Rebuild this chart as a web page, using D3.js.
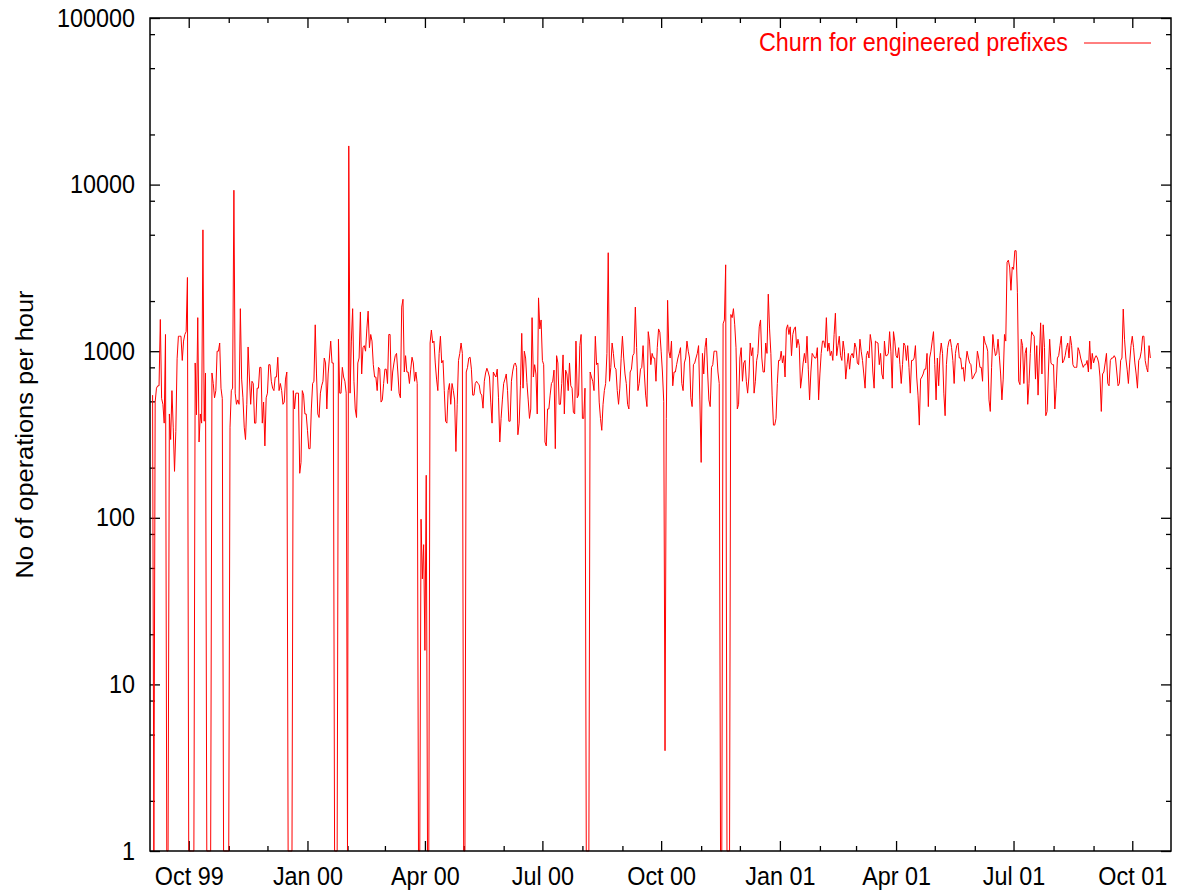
<!DOCTYPE html>
<html>
<head>
<meta charset="utf-8">
<script src="https://cdn.jsdelivr.net/npm/d3@7"></script>
<style>
  html, body { margin: 0; padding: 0; background: #fff; }
  svg { display: block; }
  text { font-family: "Liberation Sans", Arial, Helvetica, sans-serif; }
</style>
</head>
<body>
<svg id="chart" width="1180" height="891"></svg>
<script>
// Daily route-churn counts (operations per hour) for engineered prefixes.
// A value of 0 means no activity that day; it is drawn at the axis floor.
const seriesName = 'Churn for engineered prefixes';
const yAxisTitle = 'No of operations per hour';

const churn1999Start = '1999-09-03';
const churn1999 = [
  545,0,495,600,620,620,1550,520,480,370,
  1260,0,0,420,295,580,350,190,330,900,
  1230,1230,1230,880,1150,1260,1310,2770,0,0,
  0,0,0,850,415,1590,285,420,370,5350,
  380,740,0,0,0,0,740,640,525,580,
  1000,1000,1120,600,520,0,0,0,0,0,
  350,580,600,9250,560,480,510,480,1800,680,
  525,350,295,480,1060,700,480,660,640,370,
  370,600,600,800,800,370,495,270,525,560,
  830,830,660,600,580,700,700,920,580,640,
  580,480,495,680,750,0,0,0,0,580,
  450,560,560,560,185,215,580,545,420,420
];

const churn2000Start = '2000-01-01';
const churn2000 = [
  335,260,260,450,640,660,1440,730,420,400,
  560,620,660,910,850,450,730,910,1150,850,
  850,0,0,0,1180,560,560,800,700,660,
  560,0,17060,560,1150,1800,660,450,400,850,
  910,1720,730,1050,1080,1000,1360,1740,1050,1260,
  1150,830,700,700,580,800,780,495,510,640,
  780,780,640,1260,1260,580,750,850,940,970,
  750,560,525,1840,2050,750,940,750,750,640,
  780,920,850,660,750,640,0,0,98,43,
  69,16,180,0,0,1120,1340,1120,1150,850,
  680,580,970,1230,850,880,580,380,370,580,
  640,480,640,580,510,250,480,880,970,1120,
  970,0,0,750,800,910,920,780,545,545,
  640,660,640,630,560,545,455,660,740,790,
  750,700,495,370,750,720,700,780,525,285,
  395,510,640,680,730,580,380,380,660,760,
  830,850,800,315,370,620,1280,600,1000,910,
  650,510,395,450,1590,700,830,730,420,2090,
  1360,1540,880,830,285,270,450,450,545,640,
  660,770,260,940,850,480,480,640,950,420,
  770,730,580,850,620,600,430,420,1150,525,
  545,1080,1260,395,395,600,0,0,0,750,
  700,660,580,1230,830,850,495,395,335,480,
  580,640,970,3900,660,800,1120,970,800,780,
  580,480,600,900,1230,910,730,640,480,450,
  750,780,940,970,1840,1050,580,640,780,800,
  1080,730,545,465,1310,1150,830,970,910,910,
  660,1050,1360,1300,1000,750,500,4,395,2020,
  1000,910,1150,620,750,750,830,910,970,1050,
  640,580,850,910,1150,1000,910,525,465,830,
  850,910,970,1080,510,215,970,730,1050,1200,
  750,510,465,800,830,1000,1000,1000,750,640,
  0,0,1460,1540,3300,0,0,0,1660,1590,
  1800,1440,1050,450,480,910,1050,660,850,880,
  660,560,700,1120,940,1050,560,660,880,970,
  1400,1540,910,750,750,1120,970,2200,1360,970,
  545,360,360,395,640,880
];

const churn2001Start = '2001-01-01';
const churn2001 = [
  880,1000,850,940,
  700,1360,1440,1260,1400,940,1260,1360,1400,1050,
  1180,1080,600,700,850,970,850,1230,780,510,
  750,970,940,910,910,1050,510,730,970,1150,
  1150,1050,1590,1000,1120,940,1000,880,1260,1690,
  940,1080,1230,940,880,1150,1000,680,830,970,
  780,940,970,910,1120,1050,850,830,1180,1000,
  880,730,600,940,1000,910,1260,1120,750,600,
  1150,1130,1120,830,970,730,680,1150,940,940,
  970,1310,1000,600,1310,1150,940,910,1050,830,
  640,830,1120,1080,880,1080,800,560,880,880,
  910,1080,700,545,360,680,700,730,780,780,
  970,465,910,1000,1150,1310,830,510,910,620,
  940,1120,970,560,410,830,1050,1150,1180,1050,
  880,640,970,1080,1120,910,910,780,800,660,
  850,1000,910,850,830,680,700,730,750,1000,
  910,800,800,660,1230,1120,1080,1000,510,435,
  800,1260,1050,940,970,1180,940,730,510,680,
  1260,1150,3420,3520,3200,2320,3200,3100,4010,4010,
  2260,660,630,1180,1080,640,970,1050,480,640,
  970,1310,1260,1230,680,1080,545,910,1480,730,
  1440,1050,410,435,750,1180,850,830,830,450,
  600,910,940,1080,1230,850,880,940,1050,1120,
  910,1230,1080,830,800,800,800,1050,1000,910,
  850,800,830,830,880,750,1150,780,970,850,
  910,940,910,850,700,435,730,750,850,970,
  640,620,880,910,910,940,910,750,620,640,
  880,910,1790,1180,910,780,640,850,1080,1230,
  1050,850,730,600,880,910,1000,1230,1230,880,
  800,750,1080,910
];

const xDomain = ['1999-09-01', '2001-10-31'];
const xTickDates = ['1999-10-01', '2000-01-01', '2000-04-01', '2000-07-01',
                    '2000-10-01', '2001-01-01', '2001-04-01', '2001-07-01', '2001-10-01'];
const xTickLabels = ['Oct 99', 'Jan 00', 'Apr 00', 'Jul 00',
                     'Oct 00', 'Jan 01', 'Apr 01', 'Jul 01', 'Oct 01'];
const yDomain = [1, 100000];
const yTickValues = [1, 10, 100, 1000, 10000, 100000];
const yTickLabels = ['1', '10', '100', '1000', '10000', '100000'];
const yMinorMantissas = [2, 5, 8];

// ---------------------------------------------------------------------------
const parse = d3.utcParse('%Y-%m-%d');
const frame = { left: 150, right: 1171, top: 18, bottom: 851 };
const FONT = '"Liberation Sans", Arial, Helvetica, sans-serif';
const FONT_SIZE = 25;
const TEXT_SQUEEZE = 0.935;   // glyphs are drawn slightly narrow
const RED = '#ff0000';

const svg = d3.select('#chart');
svg.append('rect').attr('width', 1180).attr('height', 891).attr('fill', '#fff');

const x = d3.scaleUtc()
  .domain(xDomain.map(parse))
  .range([frame.left, frame.right]);

const y = d3.scaleLog()
  .domain(yDomain)
  .range([frame.bottom, frame.top]);

// flatten the yearly blocks into one daily series
function toDaily(start, values) {
  const s = parse(start);
  return values.map((v, i) => ({ date: d3.utcDay.offset(s, i), value: v }));
}
const series = [].concat(
  toDaily(churn1999Start, churn1999),
  toDaily(churn2000Start, churn2000),
  toDaily(churn2001Start, churn2001)
);

// ---------------------------------------------------------------------------
// axes: inward ticks on all four sides, labels on bottom and left only
const majorDates = xTickDates.map(parse);
const monthDates = d3.utcMonth.range(parse(xDomain[0]), parse(xDomain[1]))
  .filter(d => !majorDates.some(m => +m === +d) && x(d) > frame.left + 0.5);
const yMinor = [];
yTickValues.slice(0, -1).forEach(p => yMinorMantissas.forEach(m => yMinor.push(p * m)));

function styleAxis(g) {
  g.select('.domain').remove();
  g.attr('font-family', FONT).attr('font-size', FONT_SIZE);
  g.selectAll('.tick line').attr('stroke', '#000').attr('stroke-width', 1.3);
  g.selectAll('text')
    .attr('font-family', FONT).attr('font-size', FONT_SIZE).attr('fill', '#000')
    .attr('transform', `scale(${TEXT_SQUEEZE},1)`);
}

// bottom
svg.append('g').attr('transform', `translate(0,${frame.bottom})`)
  .call(d3.axisBottom(x).tickValues(majorDates).tickSize(-10).tickPadding(16)
    .tickFormat((d, i) => xTickLabels[i]))
  .call(styleAxis);
svg.append('g').attr('transform', `translate(0,${frame.bottom})`)
  .call(d3.axisBottom(x).tickValues(monthDates).tickSize(-5).tickFormat(''))
  .call(styleAxis);
// top
svg.append('g').attr('transform', `translate(0,${frame.top})`)
  .call(d3.axisTop(x).tickValues(majorDates).tickSize(-10).tickFormat(''))
  .call(styleAxis);
svg.append('g').attr('transform', `translate(0,${frame.top})`)
  .call(d3.axisTop(x).tickValues(monthDates).tickSize(-5).tickFormat(''))
  .call(styleAxis);
// left
svg.append('g').attr('transform', `translate(${frame.left},0)`)
  .call(d3.axisLeft(y).tickValues(yTickValues).tickSize(-10).tickPadding(16)
    .tickFormat((d, i) => yTickLabels[i]))
  .call(styleAxis);
svg.append('g').attr('transform', `translate(${frame.left},0)`)
  .call(d3.axisLeft(y).tickValues(yMinor).tickSize(-5).tickFormat(''))
  .call(styleAxis);
// right
svg.append('g').attr('transform', `translate(${frame.right},0)`)
  .call(d3.axisRight(y).tickValues(yTickValues).tickSize(-10).tickFormat(''))
  .call(styleAxis);
svg.append('g').attr('transform', `translate(${frame.right},0)`)
  .call(d3.axisRight(y).tickValues(yMinor).tickSize(-5).tickFormat(''))
  .call(styleAxis);

// ---------------------------------------------------------------------------
// the series
const line = d3.line()
  .x(d => x(d.date))
  .y(d => y(Math.max(d.value, yDomain[0])));

svg.append('path')
  .datum(series)
  .attr('fill', 'none')
  .attr('stroke', RED)
  .attr('stroke-width', 1)
  .attr('stroke-linejoin', 'miter')
  .attr('d', line);

// frame
svg.append('rect')
  .attr('x', frame.left).attr('y', frame.top)
  .attr('width', frame.right - frame.left).attr('height', frame.bottom - frame.top)
  .attr('fill', 'none').attr('stroke', '#000').attr('stroke-width', 1.5);

// y-axis title
svg.append('text')
  .attr('transform', `translate(33,${(frame.top + frame.bottom) / 2}) scale(${TEXT_SQUEEZE},1) rotate(-90)`)
  .attr('text-anchor', 'middle')
  .attr('font-family', FONT).attr('font-size', 25.4).attr('fill', '#000')
  .text(yAxisTitle);

// legend
const legend = svg.append('g');
legend.append('text')
  .attr('transform', `translate(1068,51) scale(${TEXT_SQUEEZE},1)`)
  .attr('text-anchor', 'end')
  .attr('font-family', FONT).attr('font-size', FONT_SIZE).attr('fill', RED)
  .text(seriesName);
legend.append('line')
  .attr('x1', 1084).attr('x2', 1151).attr('y1', 43).attr('y2', 43)
  .attr('stroke', RED).attr('stroke-width', 1);
</script>
</body>
</html>
